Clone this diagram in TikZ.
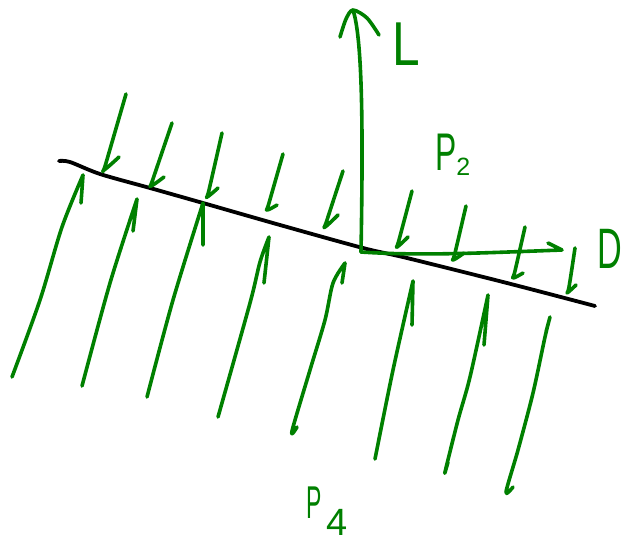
\documentclass[tikz,border=0pt]{standalone}
\usepackage{fontspec}
\setmainfont{Liberation Sans}
\definecolor{pen}{RGB}{0,128,0}
\begin{document}
\begin{tikzpicture}[x=1pt,y=-1pt, line cap=round, line join=round,
  ink/.style={draw=pen, line width=3.6pt},
  rim/.style={draw=black, line width=3.8pt},
  lbl/.style={text=pen, inner sep=0pt, anchor=base west}]
\useasboundingbox (0,0) rectangle (629,550);
% interface line
\draw[rim] plot[smooth] coordinates {(59,161) (70,162) (100,174) (150,188) (203,203) (280,225) (363,248) (407,258) (507,283) (595,306)};
% upper strokes (downward with hook)
\foreach \tx/\ty/\nx/\ny/\bx/\by/\hx/\hy in {
  126/94/106/163/104/170/119/157,
  172/123/153/179/151/186/164/177,
  222/133/209/190/207/197/218/188,
  283/154/269/203/267/210/277/205,
  343/171/327/220/325/227/338/215,
  412/191/399/240/397/247/408/237,
  466/206/455/253/453/260/464/253,
  525/227/515/271/513/278/523/273,
  575/248/569/287/567/293/576/285}
  \draw[ink] plot[smooth, tension=0.6] coordinates {(\tx,\ty) (\nx,\ny) (\bx,\by) (\hx,\hy)};
% lower strokes (upward with barb)
\draw[ink] plot[smooth] coordinates {(12,377) (40,300) (62,227) (83,175)} -- (81,203);
\draw[ink] plot[smooth] coordinates {(82,386) (110,283) (137,199)} -- (133,231);
\draw[ink] plot[smooth] coordinates {(147,397) (173,300) (203,203)} -- (203,245);
\draw[ink] plot[smooth] coordinates {(218,417) (250,303) (260,262) (269,237)} -- (264,283);
\draw[ink] plot[smooth] coordinates {(297,427) (292,431) (310,370) (325,320) (333,283) (345,263)} -- (342,283);
\draw[ink] plot[smooth] coordinates {(375,459) (393,370) (413,281)} -- (412,325);
\draw[ink] plot[smooth] coordinates {(448,462) (445,472) (458,420) (470,377) (488,295)} -- (484,345);
\draw[ink] plot[smooth] coordinates {(513,487) (506,492) (518,450) (533,393) (545,337) (550,317)} -- (546,332);
% axes
\coordinate (O) at (361,252);
\coordinate (Ltip) at (353,10);
\coordinate (Dtip) at (562,250);
\draw[ink] (O) .. controls (363,140) and (363,40) .. (Ltip);
\draw[ink] plot[smooth] coordinates {(340,37) (346,19) (353,10) (367,18) (379,35)};
\draw[ink] (O) .. controls (420,256) and (480,253) .. (Dtip) -- (548,243);
% labels
\node[lbl, font=\fontsize{62}{62}\selectfont] (Llab) at (392,65) {\scalebox{0.8}[1]{L}};
\node[lbl, font=\fontsize{57}{57}\selectfont] (Dlab) at (597,268) {\scalebox{0.6}[1]{D}};
\node[lbl, font=\fontsize{53}{53}\selectfont] (P2) at (435,170) {\scalebox{0.6}[1]{P}\raisebox{-5pt}{\fontsize{25}{25}\selectfont 2}};
\node[lbl, font=\fontsize{46}{46}\selectfont] (P4) at (306,518) {\scalebox{0.5}[1]{P}\kern5pt\raisebox{-17pt}{\fontsize{38}{38}\selectfont 4}};
\end{tikzpicture}
\end{document}
